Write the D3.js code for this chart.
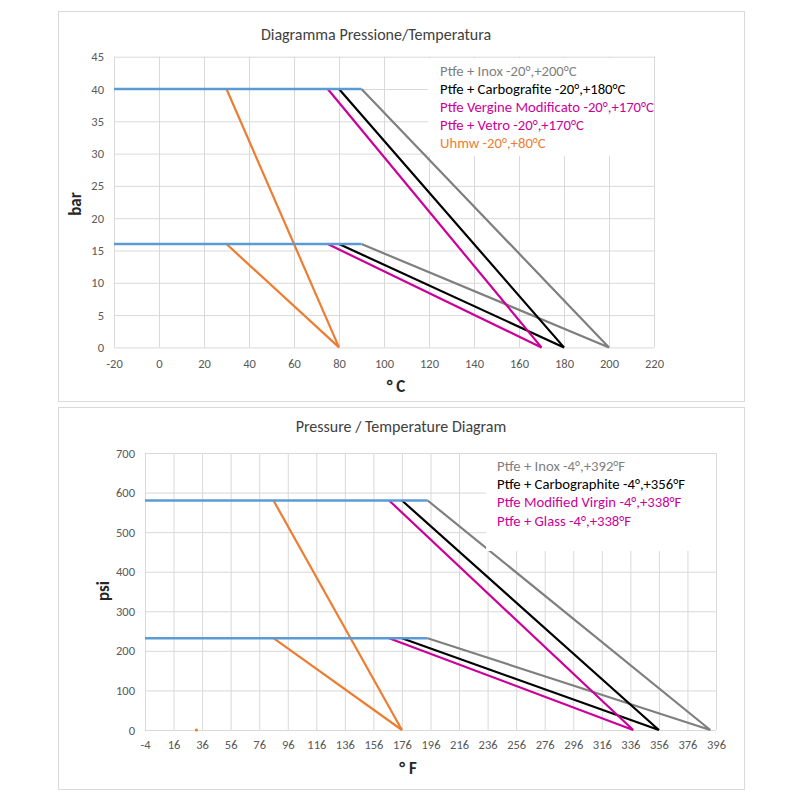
<!DOCTYPE html>
<html>
<head>
<meta charset="utf-8">
<script src="https://cdn.jsdelivr.net/npm/d3@7"></script>
<style>
    body { margin: 0; background: #fff; }
    text { font-family: Carlito, Lato, 'Open Sans', sans-serif; }
</style>
</head>
<body>
<div class="chart-container"></div>
<script>
// ---- °C / bar chart ----
const celsiusTicks = [-20, 0, 20, 40, 60, 80, 100, 120, 140, 160, 180, 200, 220];
const barTicks = [0, 5, 10, 15, 20, 25, 30, 35, 40, 45];
const celsiusBlue = [
    [[-20, 40], [90, 40]],
    [[-20, 16], [90, 16]]
];
const celsiusInox = [[90, 40], [200, 0], [90, 16]];
const celsiusCarbo = [[80, 40], [180, 0], [80, 16]];
const celsiusVirgin = [[75, 40], [170, 0], [75, 16]];
const celsiusUhmw = [[30, 40], [80, 0], [30, 16]];
const celsiusLegend = [
    'Ptfe + Inox -20°,+200°C',
    'Ptfe + Carbografite -20°,+180°C',
    'Ptfe Vergine Modificato -20°,+170°C',
    'Ptfe + Vetro -20°,+170°C',
    'Uhmw -20°,+80°C'
];

// ---- °F / psi chart ----
const fahrenheitTicks = [-4, 16, 36, 56, 76, 96, 116, 136, 156, 176, 196, 216, 236, 256, 276, 296, 316, 336, 356, 376, 396];
const psiTicks = [0, 100, 200, 300, 400, 500, 600, 700];
const fahrenheitBlue = [
    [[-4, 580], [194, 580]],
    [[-4, 232], [194, 232]]
];
const fahrenheitInox = [[194, 580], [392, 0], [194, 232]];
const fahrenheitCarbo = [[176, 580], [356, 0], [176, 232]];
const fahrenheitVirgin = [[167, 580], [338, 0], [167, 232]];
const fahrenheitUhmw = [[86, 580], [176, 0], [86, 232]];
const fahrenheitStray = [[32, 0]];
const fahrenheitLegend = [
    'Ptfe + Inox -4°,+392°F',
    'Ptfe + Carbographite -4°,+356°F',
    'Ptfe Modified Virgin -4°,+338°F',
    'Ptfe + Glass -4°,+338°F'
];

const GRAY = '#7f7f7f';
const BLACK = '#000000';
const MAGENTA = '#cc0099';
const ORANGE = '#ed7d31';
const BLUE = '#5b9bd5';
const GRID = '#d9d9d9';

const svg = d3.select('.chart-container')
    .append('svg')
    .attr('width', 800)
    .attr('height', 800)
    .style('background', '#fff');

function drawChart(cfg) {
    const g = svg.append('g');

    // panel frame
    g.append('rect')
        .attr('x', cfg.frame[0] + 0.5)
        .attr('y', cfg.frame[1] + 0.5)
        .attr('width', cfg.frame[2])
        .attr('height', cfg.frame[3])
        .attr('fill', '#fff')
        .attr('stroke', GRID);

    const xScale = d3.scaleLinear(d3.extent(cfg.xTicks), cfg.xRange);
    const yScale = d3.scaleLinear(d3.extent(cfg.yTicks), cfg.yRange);
    const plotH = cfg.yRange[0] - cfg.yRange[1];
    const plotW = cfg.xRange[1] - cfg.xRange[0];

    // gridlines
    const xGrid = g.append('g')
        .attr('transform', `translate(0,${cfg.yRange[0]})`)
        .call(d3.axisBottom(xScale).tickValues(cfg.xTicks).tickSize(-plotH).tickFormat(''));
    const yGrid = g.append('g')
        .attr('transform', `translate(${cfg.xRange[0]},0)`)
        .call(d3.axisLeft(yScale).tickValues(cfg.yTicks).tickSize(-plotW).tickFormat(''));
    [xGrid, yGrid].forEach(s => {
        s.select('.domain').remove();
        s.selectAll('line').attr('stroke', GRID).attr('stroke-width', 1);
    });

    // tick labels (plain hyphen for negatives, like the original)
    const xAxis = g.append('g')
        .attr('transform', `translate(0,${cfg.yRange[0]})`)
        .call(d3.axisBottom(xScale).tickValues(cfg.xTicks).tickSize(0).tickPadding(cfg.xPad).tickFormat(d => String(d)));
    const yAxis = g.append('g')
        .attr('transform', `translate(${cfg.xRange[0]},0)`)
        .call(d3.axisLeft(yScale).tickValues(cfg.yTicks).tickSize(0).tickPadding(10).tickFormat(d => String(d)));
    [xAxis, yAxis].forEach(s => {
        s.select('.domain').remove();
        s.selectAll('text')
            .style('font-family', 'Carlito, Lato, sans-serif')
            .style('font-size', '12.5px')
            .attr('fill', '#595959');
    });

    const line = d3.line()
        .x(d => xScale(d[0]))
        .y(d => yScale(d[1]));

    // series
    cfg.series.forEach(s => {
        g.append('path')
            .datum(s.data)
            .attr('d', line)
            .attr('fill', 'none')
            .attr('stroke', s.color)
            .attr('stroke-width', s.width || 2.2)
            .attr('stroke-linejoin', 'miter');
    });
    if (cfg.dots) {
        g.selectAll('.stray')
            .data(cfg.dots)
            .enter()
            .append('circle')
            .attr('class', 'stray')
            .attr('cx', d => xScale(d[0]))
            .attr('cy', d => yScale(d[1]))
            .attr('r', 1.6)
            .attr('fill', ORANGE);
    }

    // legend (white box over plot)
    g.append('rect')
        .attr('x', cfg.legendBox[0])
        .attr('y', cfg.legendBox[1])
        .attr('width', cfg.legendBox[2])
        .attr('height', cfg.legendBox[3])
        .attr('fill', '#fff');
    g.selectAll('.legend-text')
        .data(cfg.legend)
        .enter()
        .append('text')
        .attr('class', 'legend-text')
        .attr('x', cfg.legendPos[0])
        .attr('y', (d, i) => cfg.legendPos[1] + i * cfg.legendStep)
        .attr('fill', (d, i) => cfg.legendColors[i])
        .style('font-size', '14.7px')
        .text(d => d);

    // title
    g.append('text')
        .attr('x', cfg.title[1])
        .attr('y', cfg.title[2])
        .attr('text-anchor', 'middle')
        .attr('fill', '#404040')
        .style('font-size', '16px')
        .text(cfg.title[0]);

    // axis titles
    g.append('text')
        .attr('x', cfg.xTitle[1])
        .attr('y', cfg.xTitle[2])
        .attr('text-anchor', 'middle')
        .attr('fill', '#262626')
        .style('font-size', '17px')
        .style('font-weight', 'bold')
        .text(cfg.xTitle[0]);
    g.append('text')
        .attr('transform', `translate(${cfg.yTitle[1]},${cfg.yTitle[2]}) rotate(-90)`)
        .attr('text-anchor', 'middle')
        .attr('fill', '#262626')
        .style('font-size', '17px')
        .style('font-weight', 'bold')
        .text(cfg.yTitle[0]);
}

drawChart({
    frame: [58, 11, 686, 390],
    xTicks: celsiusTicks,
    yTicks: barTicks,
    xRange: [114, 654],
    yRange: [347.4, 56.7],
    xPad: 12,
    series: [
        { data: celsiusInox, color: GRAY },
        { data: celsiusCarbo, color: BLACK },
        { data: celsiusVirgin, color: MAGENTA },
        { data: celsiusUhmw, color: ORANGE },
        { data: celsiusBlue[0], color: BLUE, width: 2.5 },
        { data: celsiusBlue[1], color: BLUE, width: 2.5 }
    ],
    legendBox: [428, 58, 226, 98],
    legend: celsiusLegend,
    legendColors: [GRAY, BLACK, MAGENTA, MAGENTA, ORANGE],
    legendPos: [440, 76],
    legendStep: 18,
    title: ['Diagramma Pressione/Temperatura', 376, 40],
    xTitle: ['° C', 396, 392],
    yTitle: ['bar', 81, 204]
});

drawChart({
    frame: [58, 407, 686, 382],
    xTicks: fahrenheitTicks,
    yTicks: psiTicks,
    xRange: [145, 716],
    yRange: [730, 453],
    xPad: 10,
    series: [
        { data: fahrenheitInox, color: GRAY },
        { data: fahrenheitCarbo, color: BLACK },
        { data: fahrenheitVirgin, color: MAGENTA },
        { data: fahrenheitUhmw, color: ORANGE },
        { data: fahrenheitBlue[0], color: BLUE, width: 2.5 },
        { data: fahrenheitBlue[1], color: BLUE, width: 2.5 }
    ],
    dots: fahrenheitStray,
    legendBox: [486, 454, 230, 97],
    legend: fahrenheitLegend,
    legendColors: [GRAY, BLACK, MAGENTA, MAGENTA],
    legendPos: [497, 471],
    legendStep: 18.2,
    title: ['Pressure / Temperature Diagram', 401, 432],
    xTitle: ['° F', 408, 774],
    yTitle: ['psi', 109, 591]
});
</script>
</body>
</html>
